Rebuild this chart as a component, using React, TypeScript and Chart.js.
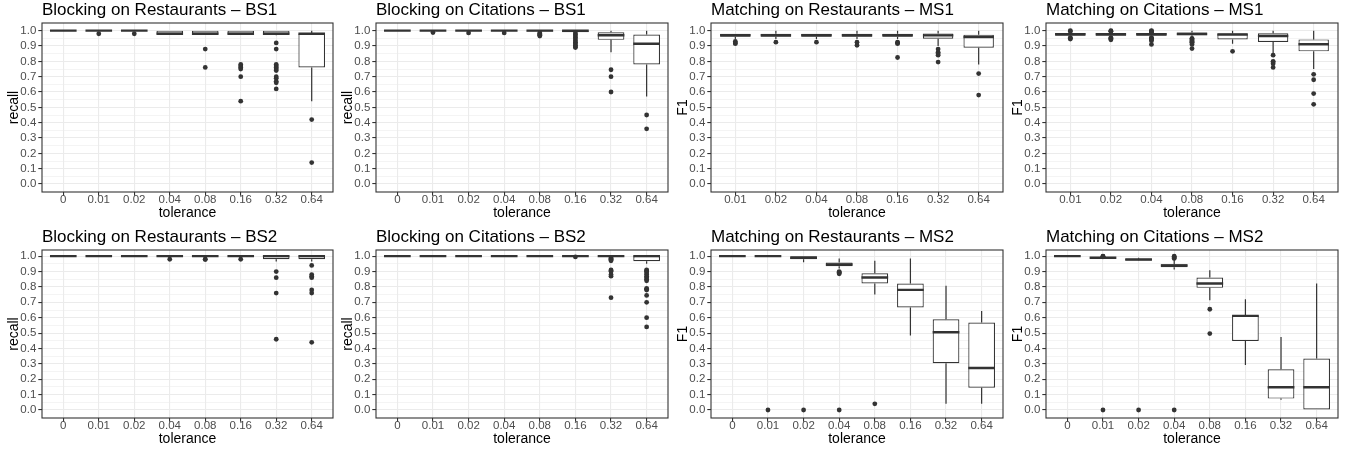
import React, { useEffect, useRef } from 'react';
import { Chart, registerables } from 'chart.js';

Chart.register(...registerables);
Chart.defaults.font.family = "'Liberation Sans', Arial, sans-serif";

// ---------- data ----------
const CAT8 = ['0', '0.01', '0.02', '0.04', '0.08', '0.16', '0.32', '0.64'];
const CAT7 = ['0.01', '0.02', '0.04', '0.08', '0.16', '0.32', '0.64'];

const Y_TICK_VALUES = [
  0.0, 0.05, 0.1, 0.15, 0.2, 0.25, 0.3, 0.35, 0.4, 0.45, 0.5,
  0.55, 0.6, 0.65, 0.7, 0.75, 0.8, 0.85, 0.9, 0.95, 1.0,
];

// each box: [lower whisker, q1, median, q3, upper whisker]
const BR_BS1_BOX = [
  [1, 1, 1, 1, 1], [1, 1, 1, 1, 1], [1, 1, 1, 1, 1], [0.98, 0.98, 0.98, 1, 1],
  [0.98, 0.98, 0.98, 1, 1], [0.98, 0.98, 0.98, 1, 1], [0.97, 0.98, 0.98, 1, 1], [0.54, 0.76, 0.98, 0.98, 1],
];
const BR_BS1_OUT = [
  [], [0.98], [0.98], [], [0.88, 0.76], [0.78, 0.77, 0.76, 0.75, 0.7, 0.54],
  [0.92, 0.88, 0.78, 0.77, 0.76, 0.75, 0.74, 0.7, 0.69, 0.67, 0.66, 0.62], [0.42, 0.14],
];

const BC_BS1_BOX = [
  [1, 1, 1, 1, 1], [1, 1, 1, 1, 1], [1, 1, 1, 1, 1], [1, 1, 1, 1, 1],
  [0.99, 0.995, 1, 1, 1], [0.99, 0.99, 1, 1, 1], [0.86, 0.94, 0.97, 0.99, 1], [0.57, 0.78, 0.915, 0.975, 1],
];
const BC_BS1_OUT = [
  [], [0.988], [0.985], [0.985], [0.985, 0.98, 0.975, 0.97, 0.965],
  [0.985, 0.975, 0.965, 0.955, 0.945, 0.935, 0.925, 0.915, 0.905, 0.895, 0.89],
  [0.745, 0.7, 0.6], [0.45, 0.36],
];

const MR_MS1_BOX = [
  [0.945, 0.96, 0.97, 0.98, 0.98], [0.945, 0.96, 0.97, 0.98, 1], [0.945, 0.96, 0.97, 0.98, 0.98],
  [0.945, 0.96, 0.97, 0.98, 1], [0.945, 0.96, 0.97, 0.98, 1], [0.9, 0.948, 0.969, 0.982, 1],
  [0.78, 0.889, 0.959, 0.974, 1],
];
const MR_MS1_OUT = [
  [0.93, 0.92, 0.915], [0.925], [0.925], [0.925, 0.905], [0.925, 0.92, 0.915, 0.825],
  [0.88, 0.86, 0.85, 0.84, 0.795], [0.72, 0.58],
];

const MC_MS1_BOX = [
  [0.96, 0.967, 0.977, 0.985, 0.99], [0.96, 0.967, 0.977, 0.985, 0.99], [0.96, 0.967, 0.977, 0.985, 0.99],
  [0.96, 0.97, 0.978, 0.988, 1], [0.915, 0.943, 0.975, 0.982, 1], [0.85, 0.926, 0.965, 0.983, 1],
  [0.75, 0.865, 0.911, 0.943, 1],
];
const MC_MS1_OUT = [
  [1, 0.995, 0.955, 0.95, 0.945],
  [1, 0.997, 0.994, 0.955, 0.95, 0.945, 0.94],
  [1, 0.997, 0.994, 0.99, 0.955, 0.95, 0.945, 0.94, 0.935, 0.91],
  [0.95, 0.945, 0.94, 0.935, 0.93, 0.925, 0.92, 0.91, 0.883],
  [0.865], [0.84, 0.8, 0.795, 0.785, 0.76], [0.715, 0.68, 0.59, 0.52],
];

const BR_BS2_BOX = [
  [1, 1, 1, 1, 1], [1, 1, 1, 1, 1], [1, 1, 1, 1, 1], [1, 1, 1, 1, 1],
  [1, 1, 1, 1, 1], [1, 1, 1, 1, 1], [0.965, 0.98, 1, 1, 1], [0.965, 0.98, 1, 1, 1],
];
const BR_BS2_OUT = [
  [], [], [], [0.98], [0.98, 0.979], [0.98],
  [0.9, 0.86, 0.76, 0.46], [0.94, 0.88, 0.87, 0.86, 0.78, 0.76, 0.44],
];

const BC_BS2_BOX = [
  [1, 1, 1, 1, 1], [1, 1, 1, 1, 1], [1, 1, 1, 1, 1], [1, 1, 1, 1, 1],
  [1, 1, 1, 1, 1], [1, 1, 1, 1, 1], [0.995, 0.997, 1, 1, 1], [0.95, 0.967, 1, 1, 1],
];
const BC_BS2_OUT = [
  [], [], [], [], [], [0.995],
  [0.99, 0.985, 0.98, 0.975, 0.97, 0.91, 0.905, 0.9, 0.88, 0.87, 0.73],
  [0.91, 0.905, 0.9, 0.89, 0.88, 0.87, 0.86, 0.85, 0.84, 0.79, 0.785, 0.78, 0.745, 0.7, 0.6, 0.54],
];

const MR_MS2_BOX = [
  [1, 1, 1, 1, 1], [1, 1, 1, 1, 1], [0.96, 0.98, 0.99, 1, 1], [0.92, 0.935, 0.946, 0.959, 0.985],
  [0.75, 0.822, 0.861, 0.889, 0.97], [0.484, 0.666, 0.781, 0.822, 0.985],
  [0.04, 0.304, 0.505, 0.59, 0.807], [0.04, 0.145, 0.273, 0.568, 0.644],
];
const MR_MS2_OUT = [
  [], [0], [0], [0.9, 0.895, 0.89, 0.885, 0], [0.04], [], [], [],
];

const MC_MS2_BOX = [
  [1, 1, 1, 1, 1], [0.985, 0.988, 0.99, 0.992, 0.995], [0.97, 0.972, 0.978, 0.983, 0.99],
  [0.913, 0.928, 0.939, 0.948, 0.975], [0.714, 0.794, 0.822, 0.861, 0.909],
  [0.293, 0.449, 0.612, 0.614, 0.72], [0.067, 0.074, 0.148, 0.265, 0.475], [0, 0, 0.148, 0.334, 0.822],
];
const MC_MS2_OUT = [
  [], [1, 0.998, 0.996, 0], [0], [1, 0.995, 0.99, 0.985, 0], [0.655, 0.497], [], [], [],
];

const TITLES = [
  'Blocking on Restaurants – BS1', 'Blocking on Citations – BS1',
  'Matching on Restaurants – MS1', 'Matching on Citations – MS1',
  'Blocking on Restaurants – BS2', 'Blocking on Citations – BS2',
  'Matching on Restaurants – MS2', 'Matching on Citations – MS2',
];
const Y_LABELS = ['recall', 'recall', 'F1', 'F1', 'recall', 'recall', 'F1', 'F1'];
const X_LABEL = 'tolerance';

// ---------- layout (pixels) ----------
const PLOT_LEFT = [42, 376, 711, 1046];
const PLOT_RIGHT = [334, 669, 1004, 1339];
const PLOT_TOP = [23, 250];
const PLOT_BOTTOM = [192, 418];
const Y_MIN = [-0.052, -0.052];
const Y_MAX = [1.05, 1.04];
const YW = 42;
const TOPPAD = 23;
const XH = 34;
const RP = 3;
const BOX_WIDTH = 0.75;

const INK = '#333333';
const GRID = '#EBEBEB';

type PanelDef = {
  title: string; yLabel: string; cats: string[]; box: number[][]; out: number[][];
  col: number; row: number;
};

const PANELS: PanelDef[] = [
  { title: TITLES[0], yLabel: Y_LABELS[0], cats: CAT8, box: BR_BS1_BOX, out: BR_BS1_OUT, col: 0, row: 0 },
  { title: TITLES[1], yLabel: Y_LABELS[1], cats: CAT8, box: BC_BS1_BOX, out: BC_BS1_OUT, col: 1, row: 0 },
  { title: TITLES[2], yLabel: Y_LABELS[2], cats: CAT7, box: MR_MS1_BOX, out: MR_MS1_OUT, col: 2, row: 0 },
  { title: TITLES[3], yLabel: Y_LABELS[3], cats: CAT7, box: MC_MS1_BOX, out: MC_MS1_OUT, col: 3, row: 0 },
  { title: TITLES[4], yLabel: Y_LABELS[4], cats: CAT8, box: BR_BS2_BOX, out: BR_BS2_OUT, col: 0, row: 1 },
  { title: TITLES[5], yLabel: Y_LABELS[5], cats: CAT8, box: BC_BS2_BOX, out: BC_BS2_OUT, col: 1, row: 1 },
  { title: TITLES[6], yLabel: Y_LABELS[6], cats: CAT8, box: MR_MS2_BOX, out: MR_MS2_OUT, col: 2, row: 1 },
  { title: TITLES[7], yLabel: Y_LABELS[7], cats: CAT8, box: MC_MS2_BOX, out: MC_MS2_OUT, col: 3, row: 1 },
];

const panelTitlePlugin = {
  id: 'panelTitle',
  afterDraw(chart: any, _args: any, opts: any) {
    const { ctx, chartArea } = chart;
    ctx.save();
    ctx.font = "17px 'Liberation Sans', Arial, sans-serif";
    ctx.fillStyle = '#000000';
    ctx.textAlign = 'left';
    ctx.textBaseline = 'alphabetic';
    ctx.fillText(opts.text, chartArea.left, chartArea.top - 8);
    ctx.restore();
  },
};

const panelBorderPlugin = {
  id: 'panelBorder',
  afterDatasetsDraw(chart: any) {
    const { ctx, chartArea } = chart;
    ctx.save();
    ctx.strokeStyle = INK;
    ctx.lineWidth = 1.1;
    ctx.strokeRect(chartArea.left, chartArea.top, chartArea.right - chartArea.left, chartArea.bottom - chartArea.top);
    ctx.restore();
  },
};

function Panel({ p }: { p: PanelDef }) {
  const ref = useRef<HTMLCanvasElement>(null);
  const left = PLOT_LEFT[p.col] - YW;
  const top = PLOT_TOP[p.row] - TOPPAD;
  const width = PLOT_RIGHT[p.col] - PLOT_LEFT[p.col] + YW + RP;
  const height = PLOT_BOTTOM[p.row] - PLOT_TOP[p.row] + TOPPAD + XH;

  useEffect(() => {
    if (!ref.current) return;
    const cats = p.cats;
    const xs = cats.map((_, i) => i + 1);
    const half = BOX_WIDTH / 2;

    const boxes = p.box.map((b, i) => ({ x: xs[i], y: [b[1], b[3]] }));
    const whiskers: any[] = [];
    const medians: any[] = [];
    p.box.forEach((b, i) => {
      whiskers.push({ x: xs[i], y: b[3] }, { x: xs[i], y: b[4] }, { x: xs[i], y: null });
      whiskers.push({ x: xs[i], y: b[0] }, { x: xs[i], y: b[1] }, { x: xs[i], y: null });
      medians.push({ x: xs[i] - half, y: b[2] }, { x: xs[i] + half, y: b[2] }, { x: xs[i] + half, y: null });
    });
    const outliers: any[] = [];
    p.out.forEach((arr, i) => arr.forEach((v) => outliers.push({ x: xs[i], y: v })));

    const chart = new Chart(ref.current, {
      type: 'bar',
      data: {
        datasets: [
          {
            type: 'scatter', data: outliers, order: 1,
            pointRadius: 2.4, pointBackgroundColor: INK, pointBorderWidth: 0, pointBorderColor: INK,
          } as any,
          {
            type: 'line', data: medians, order: 2, borderColor: INK, borderWidth: 2.4,
            pointRadius: 0, spanGaps: false, tension: 0, fill: false, borderCapStyle: 'butt',
          } as any,
          {
            type: 'bar', data: boxes, order: 3, backgroundColor: '#FFFFFF', borderColor: INK,
            borderWidth: 1.2, borderSkipped: false, barPercentage: BOX_WIDTH, categoryPercentage: 1,
            inflateAmount: 0,
          } as any,
          {
            type: 'line', data: whiskers, order: 4, borderColor: INK, borderWidth: 1.2,
            pointRadius: 0, spanGaps: false, tension: 0, fill: false, borderCapStyle: 'butt',
          } as any,
        ],
      },
      options: {
        animation: false,
        responsive: false,
        devicePixelRatio: 1,
        events: [],
        layout: { padding: { top: TOPPAD, left: 0, right: RP, bottom: 0 } },
        plugins: {
          legend: { display: false },
          tooltip: { enabled: false },
          title: { display: false },
          panelTitle: { text: p.title },
        } as any,
        scales: {
          x: {
            type: 'linear',
            min: 0.4,
            max: cats.length + 0.6,
            offset: false,
            bounds: 'data',
            afterBuildTicks: (s: any) => { s.ticks = xs.map((v) => ({ value: v })); },
            afterFit: (s: any) => { s.height = XH; },
            grid: { offset: false, color: GRID, lineWidth: 1.1, tickColor: INK, tickLength: 3.7, drawTicks: true },
            border: { display: false },
            ticks: {
              autoSkip: false, maxRotation: 0, padding: -3, color: '#4D4D4D',
              font: { size: 11.5 },
              callback: (v: any) => cats[Math.round(Number(v)) - 1] ?? '',
            },
            title: {
              display: true, text: X_LABEL, color: '#000000',
              font: { size: 14, lineHeight: 1.2 }, padding: { top: 0, bottom: 4.4 },
            },
          } as any,
          y: {
            type: 'linear',
            min: Y_MIN[p.row],
            max: Y_MAX[p.row],
            bounds: 'data',
            afterBuildTicks: (s: any) => { s.ticks = Y_TICK_VALUES.map((v) => ({ value: v })); },
            afterFit: (s: any) => { s.width = YW; },
            grid: {
              color: GRID,
              lineWidth: (c: any) => (c.index % 2 === 0 ? 1.1 : 0.55),
              tickColor: (c: any) => (c.index % 2 === 0 ? INK : 'rgba(0,0,0,0)'),
              tickLength: 3.7, drawTicks: true,
            },
            border: { display: false },
            ticks: {
              autoSkip: false, padding: 2, color: '#4D4D4D',
              font: { size: 11.5 },
              callback: (v: any, i: number) => (i % 2 === 0 ? Number(v).toFixed(1) : ''),
            },
            title: {
              display: true, text: p.yLabel, color: '#000000',
              font: { size: 14, lineHeight: 1.2 }, padding: { top: 6, bottom: 0 },
            },
          } as any,
        },
      },
      plugins: [panelTitlePlugin, panelBorderPlugin],
    } as any);
    return () => chart.destroy();
  }, [p]);

  return (
    <canvas
      ref={ref}
      width={width}
      height={height}
      style={{ position: 'absolute', left, top, width, height }}
    />
  );
}

export default function App() {
  return (
    <div style={{ position: 'fixed', left: 0, top: 0, width: 1346, height: 454, background: '#FFFFFF', overflow: 'hidden' }}>
      {PANELS.map((p, i) => <Panel key={i} p={p} />)}
    </div>
  );
}
